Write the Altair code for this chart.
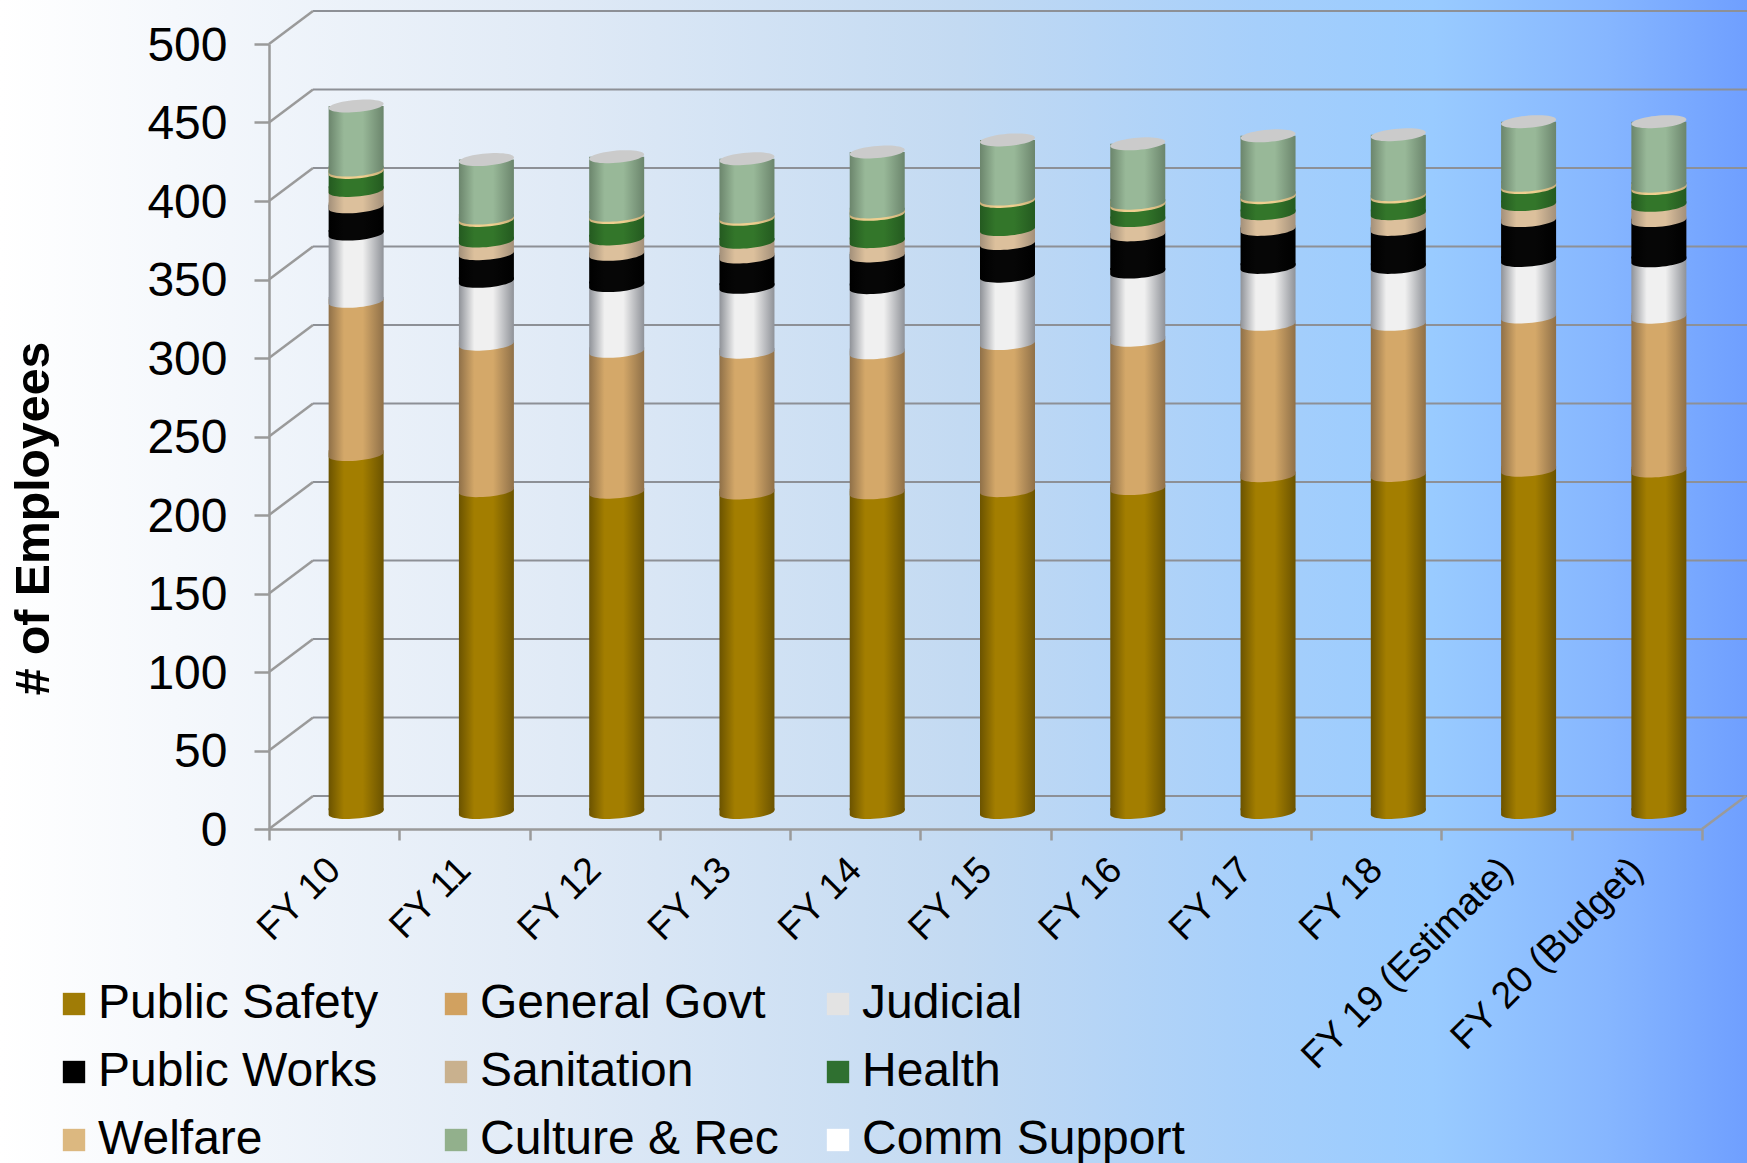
import math
import altair as alt
import pandas as pd

# Headcount by function, fiscal years 10 through 20
years = ["FY 10", "FY 11", "FY 12", "FY 13", "FY 14", "FY 15", "FY 16", "FY 17", "FY 18",
         "FY 19 (Estimate)", "FY 20 (Budget)"]
public_safety = [228.0, 205.0, 204.0, 203.5, 203.6, 205.0, 206.3, 214.5, 214.7, 218.0, 217.5]
general_govt = [97.6, 93.3, 89.7, 89.7, 89.2, 93.7, 94.5, 96.4, 96.2, 97.6, 98.0]
judicial = [42.8, 40.0, 41.9, 41.3, 41.5, 42.9, 43.4, 36.3, 36.3, 36.0, 35.9]
public_works = [17.4, 17.6, 19.9, 19.3, 20.2, 20.8, 23.7, 24.2, 24.2, 25.4, 25.6]
sanitation = [10.4, 8.1, 9.8, 9.4, 9.1, 8.9, 9.1, 10.0, 10.0, 10.2, 9.7]
health = [11.5, 13.1, 13.6, 14.6, 17.4, 17.9, 9.6, 10.2, 10.6, 10.8, 10.7]
welfare = [1.5, 1.5, 1.5, 1.5, 1.5, 1.5, 1.5, 1.5, 1.5, 1.5, 1.5]
culture_rec = [40.8, 37.3, 37.3, 37.1, 38.2, 37.7, 37.8, 37.9, 38.2, 40.5, 41.1]
comm_support = [0, 0, 0, 0, 0, 0, 0, 0, 0, 0, 0]

series_names = ["Public Safety", "General Govt", "Judicial", "Public Works", "Sanitation",
                "Health", "Welfare", "Culture & Rec", "Comm Support"]
series_values = [public_safety, general_govt, judicial, public_works, sanitation,
                 health, welfare, culture_rec, comm_support]
legend_colors = ["#a07c06", "#d1a160", "#e3e3e3", "#000000", "#c9b18e",
                 "#2f7030", "#dcb880", "#92b08c", "#ffffff"]
# Cylinder shading: edge colour, centre colour
shades = {
    "Public Safety": ("#6b5300", "#a37e00"),
    "General Govt": ("#8f7048", "#d4a869"),
    "Judicial": ("#8f9298", "#f0f0f0"),
    "Public Works": ("#000000", "#060606"),
    "Sanitation": ("#a3907a", "#dcc09c"),
    "Health": ("#245a20", "#33762a"),
    "Welfare": ("#c9ae7a", "#efcf90"),
    "Culture & Rec": ("#6b856c", "#98b898"),
}

FONT = "Liberation Sans"
LEFT, TOP, PLOT_W, PLOT_H = 269, 44, 1433, 785
TOTAL_W, TOTAL_H = 1747, 1163
DEPTH_X, DEPTH_Y = 44, 33      # oblique depth of the chart box, in pixels
UNITS_PER_PX = 500 / PLOT_H
DEPTH_UNITS = DEPTH_Y * UNITS_PER_PX
BAR_W = 55
TILT = 2.2                     # half the rise of a cylinder disc across its width


def gradient(edge, centre):
    return alt.LinearGradient(
        gradient="linear", x1=0, x2=1, y1=0, y2=0,
        stops=[
            alt.GradientStop(color=edge, offset=0),
            alt.GradientStop(color=centre, offset=0.28),
            alt.GradientStop(color=centre, offset=0.62),
            alt.GradientStop(color=edge, offset=1),
        ],
    )


def disc_point(t):
    # Unit disc sheared so that its right end sits higher than its left end
    tilt, minor = TILT / (BAR_W / 2), 0.222
    return f"{math.cos(t):.4f},{minor * math.sin(t) - tilt * math.cos(t):.4f}"


def disc_path():
    pts = [disc_point(2 * math.pi * k / 48) for k in range(48)]
    return "M" + "L".join(pts) + "Z"


def base_path():
    # Front arc of the disc, closed by a flat top just above the disc's right end
    flat = -(TILT + 2) / (BAR_W / 2)
    pts = [disc_point(math.pi * k / 24) for k in range(25)]
    pts.append(f"-1,{flat:.4f}")
    pts.append(f"1,{flat:.4f}")
    pts.append(disc_point(0))
    return "M" + "L".join(pts) + "Z"


DISC = disc_path()
BASE = base_path()

rows = []
for i, year in enumerate(years):
    base = 0.0
    for name, values in zip(series_names, series_values):
        rows.append({"year": year, "series": name, "low": base, "high": base + values[i]})
        base += values[i]
table = pd.DataFrame(rows)

levels = pd.DataFrame({"v": list(range(0, 501, 50))})
levels["back"] = levels["v"] + DEPTH_UNITS

GRID = "#8d9096"
AXIS = "#9a9a9a"

x_scale = alt.Scale(domain=years, paddingInner=0, paddingOuter=0)
y_scale = alt.Scale(domain=[0, 500], nice=False)
y_axis = alt.Axis(
    values=list(range(0, 501, 50)), grid=False, zindex=1,
    title="# of Employees", titleFont=FONT, titleFontSize=48.2, titleFontWeight="bold",
    titleColor="#000000", titleX=-235, titleY=474, titleAngle=-90,
    titleAlign="center", titleBaseline="middle",
    labelFont=FONT, labelFontSize=48, labelColor="#000000", labelPadding=27, labelOffset=2,
    tickSize=15, tickColor=AXIS, tickWidth=2.5, domainColor=AXIS, domainWidth=2.5,
)
x_axis = alt.Axis(
    title=None, tickBand="extent", zindex=1, labelAngle=-45, labelAlign="right",
    labelBaseline="middle", labelFont=FONT, labelFontSize=37.5, labelColor="#000000",
    labelPadding=24, tickSize=11, tickColor=AXIS, tickWidth=2.5, labelLimit=500,
    domainColor=AXIS, domainWidth=2.5, labelOverlap=False,
)


def y_enc(field):
    return alt.Y(field, type="quantitative", scale=y_scale, axis=y_axis)


x_enc = alt.X("year:N", scale=x_scale, axis=x_axis)

backdrop = alt.Chart(levels.head(1)).mark_rect(
    fill=alt.LinearGradient(
        gradient="linear", x1=0, x2=1, y1=0, y2=0,
        stops=[
            alt.GradientStop(color="#ffffff", offset=0),
            alt.GradientStop(color="#f5f8fc", offset=0.1),
            alt.GradientStop(color="#e0eaf6", offset=0.32),
            alt.GradientStop(color="#c3daf2", offset=0.55),
            alt.GradientStop(color="#a6cffb", offset=0.72),
            alt.GradientStop(color="#99cbff", offset=0.82),
            alt.GradientStop(color="#86b6ff", offset=0.92),
            alt.GradientStop(color="#6f9fff", offset=1),
        ],
    )
).encode(
    x=alt.value(-LEFT), x2=alt.value(TOTAL_W - LEFT),
    y=alt.value(-TOP), y2=alt.value(TOTAL_H - TOP),
)

back_wall = alt.Chart(levels).mark_rule(color=GRID, strokeWidth=2).encode(
    x=alt.value(DEPTH_X), x2=alt.value(TOTAL_W - LEFT),
    y=y_enc("back"),
)

slants = alt.Chart(levels).mark_rule(color=AXIS, strokeWidth=2.5).encode(
    x=alt.value(0), x2=alt.value(DEPTH_X),
    y=y_enc("v"), y2="back:Q",
)

floor_edge = alt.Chart(levels.head(1)).mark_rule(color=AXIS, strokeWidth=2.5).encode(
    x=alt.value(PLOT_W), x2=alt.value(PLOT_W + DEPTH_X),
    y=y_enc("v"), y2="back:Q",
)

# Stack the cylinders from the bottom up, each band resting on its own front arc
bands = []
base_offset = dict(xOffset=DEPTH_X / 2, yOffset=-DEPTH_Y / 2)
for idx, name in enumerate(series_names[:-1]):
    subset = table[table["series"] == name]
    edge, centre = shades[name]
    fill = gradient(edge, centre)
    # All but the top band reach up to the next band's flat base
    top_shift = -DEPTH_Y / 2 - (TILT if idx < len(series_names) - 2 else 0)
    bands.append(
        alt.Chart(subset).mark_bar(
            fill=fill, width=BAR_W, xOffset=DEPTH_X / 2, yOffset=top_shift,
            y2Offset=-DEPTH_Y / 2 - TILT,
        ).encode(
            x=x_enc,
            y=y_enc("high"),
            y2="low:Q",
        )
    )
    bands.append(
        alt.Chart(subset).mark_point(
            shape=BASE, size=BAR_W ** 2, filled=True, fill=fill, opacity=1, strokeWidth=0,
            **base_offset,
        ).encode(
            x=x_enc,
            y=y_enc("low"),
        )
    )

caps = alt.Chart(table[table["series"] == series_names[-1]]).mark_point(
    shape=DISC, size=BAR_W ** 2, filled=True, fill="#cbcbcb", opacity=1, strokeWidth=0,
    **base_offset,
).encode(
    x=x_enc,
    y=y_enc("high"),
)

# Zero-sized marks that carry the colour legend
key = alt.Chart(table).mark_square(size=0).encode(
    x=x_enc,
    y=y_enc("low"),
    color=alt.Color(
        "series:N",
        scale=alt.Scale(domain=series_names, range=legend_colors),
        legend=alt.Legend(
            title=None, orient="none", legendX=50 - LEFT, legendY=980 - TOP,
            direction="horizontal", columns=3, gridAlign="all", columnPadding=11, rowPadding=20,
            symbolType="square", symbolSize=500, symbolStrokeWidth=0, symbolOpacity=1,
            labelFont=FONT, labelFontSize=48, labelColor="#000000", labelOffset=0,
            labelLimit=600, zindex=1,
        ),
    ),
)

chart = alt.layer(
    backdrop, back_wall, slants, floor_edge, *bands, caps, key
).properties(
    width=PLOT_W, height=PLOT_H,
    padding={"left": LEFT, "top": TOP, "right": TOTAL_W - LEFT - PLOT_W,
             "bottom": TOTAL_H - TOP - PLOT_H},
    autosize=alt.AutoSizeParams(type="none"),
).configure_view(stroke=None)

chart.save("out.html", embed_options={"renderer": "svg", "actions": False})
